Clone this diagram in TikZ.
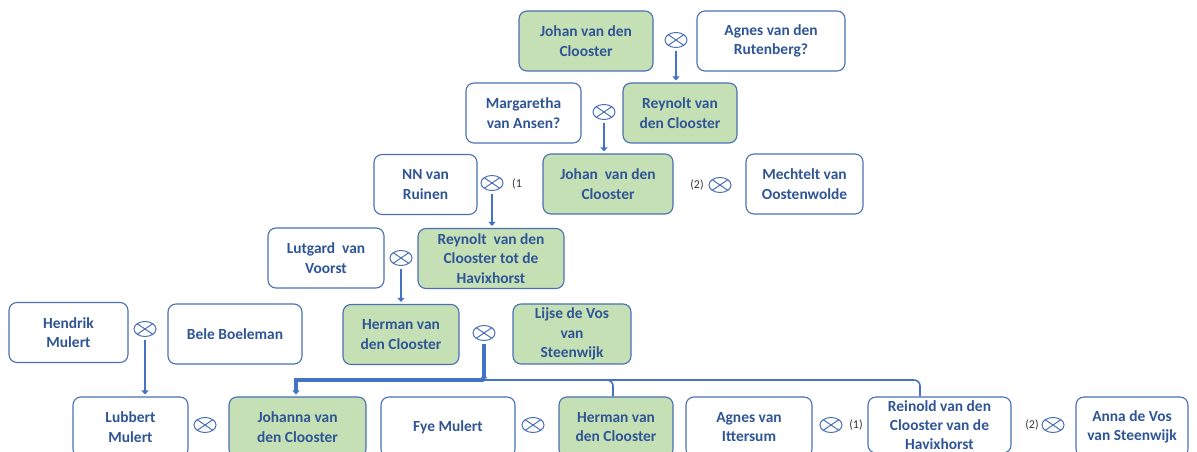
\documentclass[tikz,border=0pt]{standalone}
\usepackage{fontspec}
\setmainfont{Carlito}
\usetikzlibrary{shapes.geometric,arrows.meta}
\definecolor{txtblue}{HTML}{2F5597}
\definecolor{edgeblue}{HTML}{4A6FB5}
\definecolor{lineblue}{HTML}{4472C4}
\definecolor{boxgreen}{HTML}{C5E0B4}
\tikzset{
  person/.style={draw=edgeblue, line width=1.1pt, rounded corners=8pt, fill=white,
    minimum height=60bp, inner sep=2pt, align=center, text=txtblue,
    font=\fontsize{15.5}{19.5}\selectfont\bfseries},
  kin/.style={person, fill=boxgreen},
  marr/.style={ellipse, draw=edgeblue, line width=1pt, minimum width=22bp, minimum height=15bp,
    inner sep=0pt, path picture={
      \draw[edgeblue, line width=1pt] (path picture bounding box.north west) -- (path picture bounding box.south east)
        (path picture bounding box.north east) -- (path picture bounding box.south west);}},
  tag/.style={font=\fontsize{12}{14}\selectfont, text=black!80, inner sep=0pt},
  arr/.style={draw=lineblue, line width=2.8pt, -{Triangle[length=4bp,width=7bp]}, shorten <=3bp, shorten >=2bp},
  thin/.style={draw=lineblue, line width=1.6pt, rounded corners=6bp}
}
\begin{document}
\begin{tikzpicture}[x=1bp,y=-1bp]
\useasboundingbox (0,0) rectangle (1197,452);
\clip (0,0) rectangle (1197,452);
% generation 1
\node[kin, minimum width=134bp] (J1) at (586,41) {Johan van den\\Clooster};
\node[person, minimum width=148bp] (A1) at (771,41) {Agnes van den\\Rutenberg?};
\node[marr] (m1) at (676,40) {};
% generation 2
\node[person, minimum width=115bp] (M2) at (523.5,113) {Margaretha\\van Ansen?};
\node[kin, minimum width=114bp] (R2) at (680,113) {Reynolt van\\den Clooster};
\node[marr] (m2) at (604,112) {};
% generation 3
\node[person, minimum width=103bp] (N3) at (425.5,184.5) {NN van\\Ruinen};
\node[kin, minimum width=130bp] (J3) at (608,184) {Johan~~van den\\Clooster};
\node[person, minimum width=117bp] (Me3) at (804.5,184) {Mechtelt van\\Oostenwolde};
\node[marr] (m3) at (492,183) {};
\node[tag, anchor=west] (t3) at (512,184) {(1};
\node[marr] (m3b) at (720,185) {};
\node[tag] (t3b) at (697,185) {(2)};
% generation 4
\node[person, minimum width=116bp] (L4) at (326,258) {Lutgard~~van\\Voorst};
\node[kin, minimum width=146bp] (R4) at (491,258.5) {Reynolt~~van den\\Clooster tot de\\Havixhorst};
\node[marr] (m4) at (401,258) {};
% generation 5
\node[person, minimum width=119bp] (H5) at (68.5,332.5) {Hendrik\\Mulert};
\node[person, minimum width=134bp] (B5) at (235,334) {Bele Boeleman};
\node[marr] (m5) at (145,329) {};
\node[kin, minimum width=116bp] (He5) at (401,334.5) {Herman van\\den Clooster};
\node[kin, minimum width=118bp] (Li5) at (572,334) {Lijse de Vos\\van\\Steenwijk};
\node[marr] (m6) at (484,333) {};
% generation 6
\node[person, minimum width=115bp] (Lu6) at (130.5,427) {Lubbert\\Mulert};
\node[marr] (m7) at (205,425) {};
\node[kin, minimum width=137bp] (Jo6) at (297.5,427) {Johanna van\\den Clooster};
\node[person, minimum width=134bp] (F6) at (448,427) {Fye Mulert};
\node[marr] (m8) at (533,425) {};
\node[kin, minimum width=114bp] (He6) at (616,427) {Herman van\\den Clooster};
\node[person, minimum width=126bp] (Ag6) at (749,427) {Agnes van\\Ittersum};
\node[marr] (m9) at (831,425) {};
\node[tag] (t9) at (856,425) {(1)};
\node[person, minimum width=143bp, minimum height=56bp, font=\fontsize{15.5}{19}\selectfont\bfseries] (Re6) at (939.5,425) {Reinold van den\\Clooster van de\\Havixhorst};
\node[tag] (t10) at (1032,425) {(2)};
\node[marr] (m10) at (1053,425) {};
\node[person, minimum width=112bp] (An6) at (1132,427) {Anna de Vos\\van Steenwijk};
% descent arrows
\draw[arr] (m1.south) -- (R2.north -| m1.south);
\draw[arr] (m2.south) -- (J3.north -| m2.south);
\draw[arr] (m3.south) -- (R4.north -| m3.south);
\draw[arr] (m4.south) -- (He5.north -| m4.south);
\draw[arr] (m5.south) -- (Lu6.north -| m5.south);
% family of Herman and Lijse
\coordinate (jn) at (484,380);
\draw[thin] (jn) -| (He6.north -| 613,0);
\draw[thin] (jn) -| (Re6.north -| 920,0);
\draw[arr, line width=3.6pt, shorten >=0bp, -{Triangle[length=3bp,width=6bp]}] (m6.south) -- (jn);
\draw[draw=lineblue, line width=3.2pt, -{Triangle[length=4bp,width=7bp]}, shorten >=2bp] (jn) -| (Jo6.north -| 296,0);
\end{tikzpicture}
\end{document}
